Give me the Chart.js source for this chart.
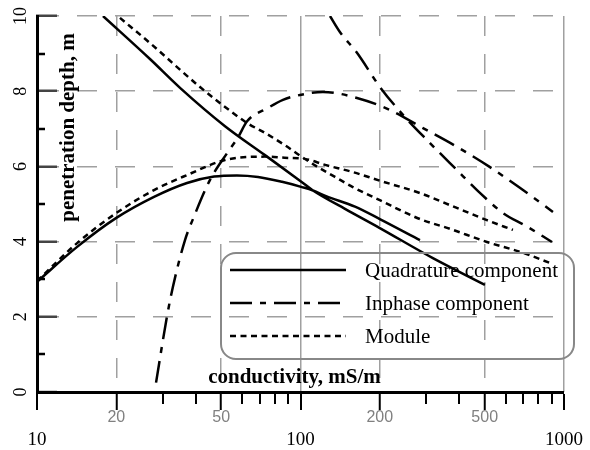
<!DOCTYPE html>
<html>
<head>
<meta charset="utf-8">
<script src="https://cdn.jsdelivr.net/npm/chart.js@4"></script>
<style>
  body { margin: 0; background: #fff; }
  #wrap { position: relative; width: 590px; height: 450px; }
  #legend {
    position: absolute; left: 220px; top: 252px; width: 355px; height: 108px;
    box-sizing: border-box; border: 2px solid #888; border-radius: 16px;
    font-family: 'Liberation Serif', serif; font-size: 21px; color: #000;
  }
  .row { position: absolute; left: 0; width: 100%; height: 24px; }
  .row svg { position: absolute; left: 8px; top: 0; }
  .row span { position: absolute; left: 143px; top: 0; line-height: 24px; white-space: nowrap; }
</style>
</head>
<body>
<div id="wrap">
  <canvas id="chart" width="590" height="450"></canvas>
  <div id="legend"></div>
</div>
<script>
// axis ticks
const xTicks = [10, 20, 30, 40, 50, 60, 70, 80, 90, 100, 200, 300, 400, 500, 600, 700, 800, 900, 1000];
const xLabelled = [20, 50, 200, 500];
const xDecades = [10, 100, 1000];
const yTicks = [0, 1, 2, 3, 4, 5, 6, 7, 8, 9, 10];
const yLabelled = [0, 2, 4, 6, 8, 10];

const seriesNames = ['Quadrature component', 'Inphase component', 'Module'];
const xTitle = 'conductivity, mS/m';
const yTitle = 'penetration depth, m';

// quadrature: rising branch and falling branch
const quadAX = [10, 14.2, 20, 27.8, 37.1, 47, 57.4, 69, 85.1, 101.3, 111.5, 125, 161, 200, 284];
const quadAY = [2.93, 3.86, 4.63, 5.19, 5.56, 5.73, 5.76, 5.72, 5.59, 5.45, 5.36, 5.21, 4.93, 4.6, 4.04];
const quadBX = [17.8, 26.9, 34.9, 51.7, 73.3, 101.3, 111.5, 147.5, 200, 318, 501];
const quadBY = [10.0, 8.85, 8.09, 7.07, 6.3, 5.58, 5.36, 4.87, 4.36, 3.56, 2.85];

// inphase
const inphAX = [28.3, 31.1, 32.8, 36.45, 39.4, 45.35, 52.6, 58, 62.7, 75, 85.8, 99.6, 121.7, 163.8, 218.6, 291.7, 392.6, 523.8, 698.9, 908];
const inphAY = [0.25, 1.99, 2.8, 4.04, 4.66, 5.64, 6.35, 6.78, 7.2, 7.55, 7.77, 7.9, 7.98, 7.82, 7.5, 7.02, 6.52, 5.98, 5.37, 4.79];
const inphBX = [129.4, 141.3, 163.8, 200.3, 244.9, 310.1, 392.6, 467.5, 586.8, 723.8, 900];
const inphBY = [10, 9.57, 9.02, 8.11, 7.37, 6.62, 5.9, 5.37, 4.76, 4.4, 3.99];

// module
const modAX = [10, 14.2, 20, 27.8, 37.1, 51.7, 73.3, 87, 104, 124, 158, 200, 284, 369, 510, 640];
const modAY = [2.95, 3.96, 4.76, 5.37, 5.77, 6.17, 6.26, 6.23, 6.2, 6.04, 5.85, 5.62, 5.29, 4.97, 4.57, 4.31];
const modBX = [20.65, 26.85, 41.56, 55.45, 63.2, 73.3, 87, 101.3, 116.5, 135.2, 158, 200, 284, 369, 510, 700, 908];
const modBY = [9.95, 9.28, 8.11, 7.42, 7.14, 6.89, 6.57, 6.25, 5.98, 5.72, 5.45, 5.1, 4.6, 4.34, 3.99, 3.7, 3.4];

const serif = 'Liberation Serif';

function branches(xa, ya, xb, yb) {
    const a = xa.map((x, i) => ({ x: x, y: ya[i] }));
    const b = xb.map((x, i) => ({ x: x, y: yb[i] }));
    return a.concat([{ x: xa[xa.length - 1], y: null }], b);
}

const axisTitles = {
    id: 'axisTitles',
    afterDatasetsDraw(chart) {
        const ctx = chart.ctx;
        const area = chart.chartArea;
        ctx.save();
        ctx.fillStyle = '#000';
        ctx.font = 'bold 21px "Liberation Serif"';
        ctx.textAlign = 'center';
        ctx.textBaseline = 'alphabetic';
        ctx.fillText(xTitle, area.left + 257.5, area.bottom - 9);
        ctx.translate(area.left + 37, area.top + 111.5);
        ctx.rotate(-Math.PI / 2);
        ctx.fillText(yTitle, 0, 0);
        ctx.restore();
    }
};

function buildLegend(chart) {
    const box = document.getElementById('legend');
    chart.data.datasets.forEach((ds, i) => {
        const row = document.createElement('div');
        row.className = 'row';
        row.style.top = (4 + 33 * i) + 'px';
        const dash = ds.borderDash.length ? ds.borderDash.join(' ') : 'none';
        row.innerHTML = '<svg width="116" height="24"><line x1="0" y1="12" x2="116" y2="12" stroke="#000" stroke-width="'
            + ds.borderWidth + '" stroke-dasharray="' + dash + '"/></svg><span>' + ds.label + '</span>';
        box.appendChild(row);
    });
}

function renderChart() {
    const ctx = document.getElementById('chart').getContext('2d');
    const chart = new Chart(ctx, {
        type: 'line',
        data: {
            datasets: [{
                label: seriesNames[0],
                data: branches(quadAX, quadAY, quadBX, quadBY),
                borderColor: '#000', borderWidth: 2.5, borderDash: []
            }, {
                label: seriesNames[1],
                data: branches(inphAX, inphAY, inphBX, inphBY),
                borderColor: '#000', borderWidth: 2.5, borderDash: [22, 8, 6, 8]
            }, {
                label: seriesNames[2],
                data: branches(modAX, modAY, modBX, modBY),
                borderColor: '#000', borderWidth: 2.5, borderDash: [6, 4.5]
            }]
        },
        options: {
            responsive: false,
            animation: false,
            elements: {
                point: { radius: 0 },
                line: { cubicInterpolationMode: 'monotone', fill: false }
            },
            layout: { padding: { left: 0, top: 16, right: 26, bottom: 0 } },
            plugins: {
                legend: { display: false },
                tooltip: { enabled: false }
            },
            scales: {
                x: {
                    type: 'logarithmic', position: 'bottom', min: 10, max: 1000,
                    afterBuildTicks: s => { s.ticks = xTicks.map(v => ({ value: v })); },
                    afterFit: s => { s.height = 58; s.paddingLeft = 0; s.paddingRight = 0; },
                    border: { display: true, color: '#000', width: 3, dash: [20, 18] },
                    grid: {
                        color: '#a0a0a0',
                        lineWidth: c => (c.tick && xLabelled.includes(c.tick.value)) ? 1.5 : 0,
                        tickLength: 18, tickColor: '#000', tickWidth: 2,
                        tickBorderDash: c => (c.tick && (xLabelled.includes(c.tick.value) || xDecades.includes(c.tick.value))) ? [] : [10, 40]
                    },
                    ticks: {
                        autoSkip: false, minRotation: 0, maxRotation: 0, padding: -2,
                        callback: v => xDecades.includes(v) ? ['', String(v)] : (xLabelled.includes(v) ? String(v) : ''),
                        font: c => (c.tick && xDecades.includes(c.tick.value))
                            ? { family: serif, size: 19, lineHeight: 1.14 }
                            : { family: 'Liberation Sans', size: 16, lineHeight: 1.2 },
                        color: c => (c.tick && xDecades.includes(c.tick.value)) ? '#000' : '#808080'
                    }
                },
                xDec: {
                    type: 'logarithmic', position: 'top', min: 10, max: 1000,
                    afterBuildTicks: s => { s.ticks = xDecades.map(v => ({ value: v })); },
                    afterFit: s => { s.height = 0; },
                    border: { display: false },
                    grid: {
                        color: '#a0a0a0', drawTicks: false,
                        lineWidth: c => (c.tick && c.tick.value > 10) ? 1.5 : 0
                    },
                    ticks: { display: false }
                },
                y: {
                    type: 'linear', position: 'left', min: 0, max: 10,
                    afterBuildTicks: s => { s.ticks = yTicks.map(v => ({ value: v })); },
                    afterFit: s => { s.width = 37; s.paddingTop = 0; s.paddingBottom = 0; },
                    border: { display: true, color: '#000', width: 3, dash: [20, 18] },
                    grid: {
                        color: '#a0a0a0',
                        lineWidth: c => (c.tick && c.tick.value > 0 && yLabelled.includes(c.tick.value)) ? 1.5 : 0,
                        tickLength: -20, tickWidth: 2.5,
                        tickColor: c => (c.tick && yLabelled.includes(c.tick.value)) ? '#444' : '#000',
                        tickBorderDash: c => (c.tick && yLabelled.includes(c.tick.value)) ? [] : [0, 12, 8, 100]
                    },
                    ticks: {
                        autoSkip: false, minRotation: 90, maxRotation: 90, crossAlign: 'center', padding: 27,
                        callback: v => yLabelled.includes(v) ? String(v) : '',
                        font: { family: serif, size: 18 },
                        color: '#000'
                    }
                }
            }
        },
        plugins: [axisTitles]
    });
    buildLegend(chart);
}

window.onload = renderChart;
</script>
</body>
</html>
